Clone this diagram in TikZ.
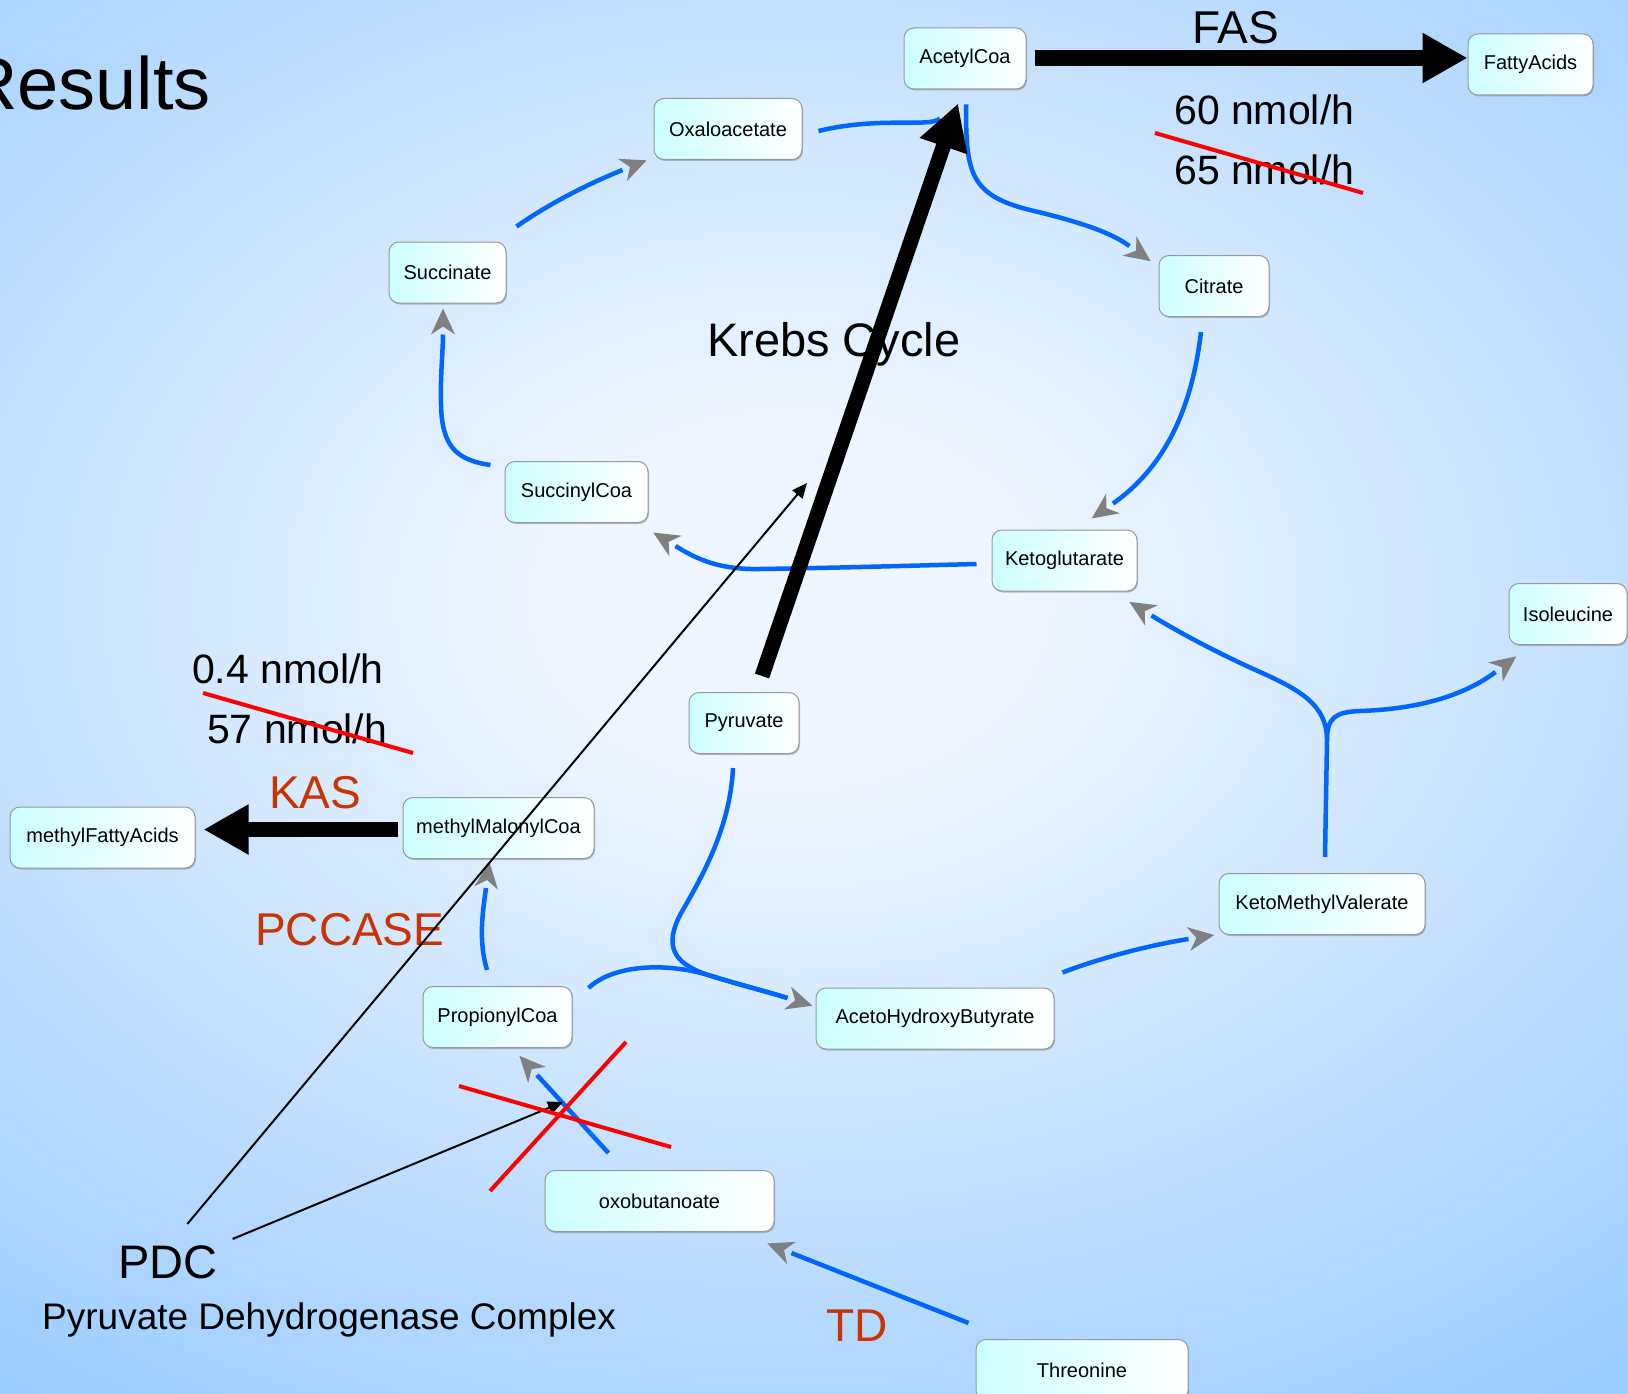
\documentclass[tikz,border=0pt]{standalone}
\usepackage{fontspec}
\setmainfont{Liberation Sans}
\usetikzlibrary{arrows.meta,calc,decorations.markings,shadows}

\definecolor{bgin}{HTML}{F0F6FF}
\definecolor{bgout}{HTML}{99CCFF}
\definecolor{nodecyan}{HTML}{CCFFFF}
\definecolor{flowblue}{HTML}{0066FF}
\definecolor{tipgray}{HTML}{808080}
\definecolor{enzred}{HTML}{CC3300}

% soft radial backdrop, light in the middle, blue at the rim
\pgfdeclareradialshading{bgshade}{\pgfpoint{0bp}{0bp}}{color(0bp)=(bgin); color(5bp)=(bgin); color(31bp)=(bgout); color(71bp)=(bgout)}

\begin{document}
\begin{tikzpicture}[x=1pt, y=-1pt,
  metab/.style={rectangle, rounded corners=10pt, draw=gray!80, line width=1pt,
    left color=nodecyan, right color=white, minimum height=61pt, inner sep=0pt,
    font=\fontsize{20}{24}\selectfont,
    drop shadow={shadow xshift=1pt, shadow yshift=-1.5pt, fill=gray, opacity=0.5}},
  flow/.style={draw=flowblue, line width=4.5pt},
  flowtip/.style={flow, postaction={decorate},
    decoration={markings, mark=at position 1 with {
      \fill[tipgray] (26pt,0pt) -- (0pt,12pt) -- (8pt,0pt) -- (0pt,-12pt) -- cycle;}}},
  bigarrow/.style={draw=black, -{Triangle[length=45pt, width=47pt]}},
  pdcline/.style={draw=black, line width=2pt, -{Triangle[length=15pt, width=13pt]}},
  strike/.style={draw=red, line width=4pt},
  lbl/.style={inner sep=0pt, anchor=base west},
  enzyme/.style={lbl, text=enzred, font=\fontsize{46}{50}\selectfont},
  rate/.style={lbl, font=\fontsize{41}{46}\selectfont}
]
\useasboundingbox (0,0) rectangle (1628,1394);
\begin{scope}
  \clip (0,0) rectangle (1628,1394);
  \shade[shading=bgshade] (-310,-200) rectangle (1890,1400);
\end{scope}

% metabolites
\node[metab, minimum width=122pt] (acetyl) at (965,58.5) {AcetylCoa};
\node[metab, minimum width=125pt] (fatty) at (1530.5,64.5) {FattyAcids};
\node[metab, minimum width=148pt] (oxalo) at (728,129) {Oxaloacetate};
\node[metab, minimum width=117pt] (succinate) at (447.5,272.5) {Succinate};
\node[metab, minimum width=110pt] (citrate) at (1214,286) {Citrate};
\node[metab, minimum width=143pt] (succinyl) at (576.5,492) {SuccinylCoa};
\node[metab, minimum width=145pt] (keto) at (1064.5,560.5) {Ketoglutarate};
\node[metab, minimum width=118pt] (isoleucine) at (1568,614) {Isoleucine};
\node[metab, minimum width=110pt] (pyruvate) at (744,723) {Pyruvate};
\node[metab, minimum width=191pt] (mmcoa) at (498.5,828) {methylMalonylCoa};
\node[metab, minimum width=185pt] (mfa) at (102.5,837.5) {methylFattyAcids};
\node[metab, minimum width=206pt] (kmv) at (1322,904) {KetoMethylValerate};
\node[metab, minimum width=149pt] (propionyl) at (497.5,1017) {PropionylCoa};
\node[metab, minimum width=238pt] (ahb) at (935,1018.5) {AcetoHydroxyButyrate};
\node[metab, minimum width=229pt] (oxobut) at (659.5,1201) {oxobutanoate};
\node[metab, minimum width=212pt] (threonine) at (1082,1370) {Threonine};

% Krebs cycle and side reactions
\draw[flowtip] ($(oxalo.east)+(16,2)$) .. controls (880,116) and (930,128) .. ($(acetyl.south)+(-25,29)$);
\draw[flowtip] ($(acetyl.south)+(1,15)$) .. controls (966,170) and (968,195) .. (1030,210)
  .. controls (1080,222) and (1110,232) .. ($(citrate.north west)+(-29,-9)$);
\draw[flowtip] ($(citrate.south)+(-13,15)$) .. controls (1194,390) and (1175,460) .. ($(keto.north)+(48.5,-26)$);
\draw[flowtip] ($(keto.west)+(-15,3.5)$) .. controls (900,566) and (830,568) .. (760,569)
  .. controls (715,570) and (692,556) .. ($(succinyl.south east)+(27,23)$);
\draw[flowtip] ($(succinyl.west)+(-14,-27)$) .. controls (455,460) and (442,445) .. (441,405)
  .. controls (440,380) and (443,350) .. ($(succinate.south)+(-4.5,31)$);
\draw[flowtip] ($(succinate.north east)+(10,-15)$) .. controls (550,203) and (590,183) .. ($(oxalo.south west)+(-31,10)$);

\draw[flow] ($(propionyl.north east)+(16,2)$) .. controls (612,966) and (660,962) .. (705,974)
  .. controls (740,985) and (765,991) .. ($(ahb.west)+(-28,-20.5)$);
\draw[flowtip] ($(pyruvate.south)+(-11,14)$) .. controls (730,830) and (700,880) .. (680,915)
  .. controls (665,945) and (672,962) .. (705,974)
  .. controls (740,985) and (765,991) .. ($(ahb.west)+(-28,-20.5)$);
\draw[flowtip] ($(ahb.north east)+(8,-15)$) .. controls (1100,958) and (1150,945) .. ($(kmv.south west)+(-30,4)$);
\coordinate (fork) at (1327,740);
\draw[flowtip] ($(kmv.north)+(3,-16)$) -- (fork) .. controls (1327,705) and (1300,690) .. (1260,672)
  .. controls (1215,652) and (1175,630) .. ($(keto.south east)+(14,24)$);
\draw[flowtip] (fork) .. controls (1327,718) and (1335,712) .. (1360,711)
  .. controls (1420,709) and (1465,695) .. ($(isoleucine.south west)+(-13,27)$);
\draw[flowtip] ($(propionyl.north)+(-10.5,-16)$) .. controls (478,940) and (483,910) .. ($(mmcoa.south)+(-12.5,29)$);
\draw[flowtip] ($(oxobut.north west)+(64,-17)$) -- ($(propionyl.south)+(39.5,27)$);
\draw[flowtip] ($(threonine.north west)+(-7,-16)$) -- ($(oxobut.south east)+(17,21)$);

% labels
\node[lbl, anchor=base east, font=\fontsize{74}{80}\selectfont] (results) at (211,110) {Results};
\node[lbl, font=\fontsize{46}{50}\selectfont] (fas) at (1192,44) {FAS};
\node[rate] (fasnew) at (1174,125) {60 nmol/h};
\node[rate] (fasold) at (1174,185) {65 nmol/h};
\node[lbl, font=\fontsize{47}{52}\selectfont] (krebs) at (707,356) {Krebs Cycle};
\node[rate] (kasnew) at (192,683) {0.4 nmol/h};
\node[rate] (kasold) at (207,743) {57 nmol/h};
\node[enzyme] (kas) at (269,808) {KAS};
\node[enzyme] (pccase) at (255,945) {PCCASE};
\node[enzyme] (td) at (826,1341) {TD};
\node[lbl, font=\fontsize{47}{52}\selectfont] (pdc) at (118,1278) {PDC};
\node[lbl, font=\fontsize{37}{42}\selectfont] (pdcname) at (42,1329) {Pyruvate Dehydrogenase Complex};

% main fluxes
\draw[bigarrow, line width=15pt] ($(pyruvate.north)+(18,-16)$) -- ($(acetyl.south)+(-7,14)$);
\draw[bigarrow, line width=16pt] ($(acetyl.east)+(8,-0.5)$) -- ($(fatty.west)+(0,-6.5)$);
\draw[bigarrow, line width=15pt] ($(mmcoa.west)+(-5,1.5)$) -- ($(mfa.east)+(8,-8)$);

% PDC pointers
\coordinate (pdcTipA) at (807,483);
\coordinate (pdcTipB) at (563,1102);
\draw[pdcline] ($(pdc.north)+(19.5,-21)$) -- (pdcTipA);
\draw[pdcline] ($(pdc.north east)+(15,-6)$) -- (pdcTipB);

% strike-outs
\draw[strike] (1155,133) -- (1363,193);
\draw[strike] (203,693) -- (413,753);
\draw[strike] (459,1086) -- (671,1147);
\draw[strike] (490,1191) -- (626,1042);
\end{tikzpicture}
\end{document}
